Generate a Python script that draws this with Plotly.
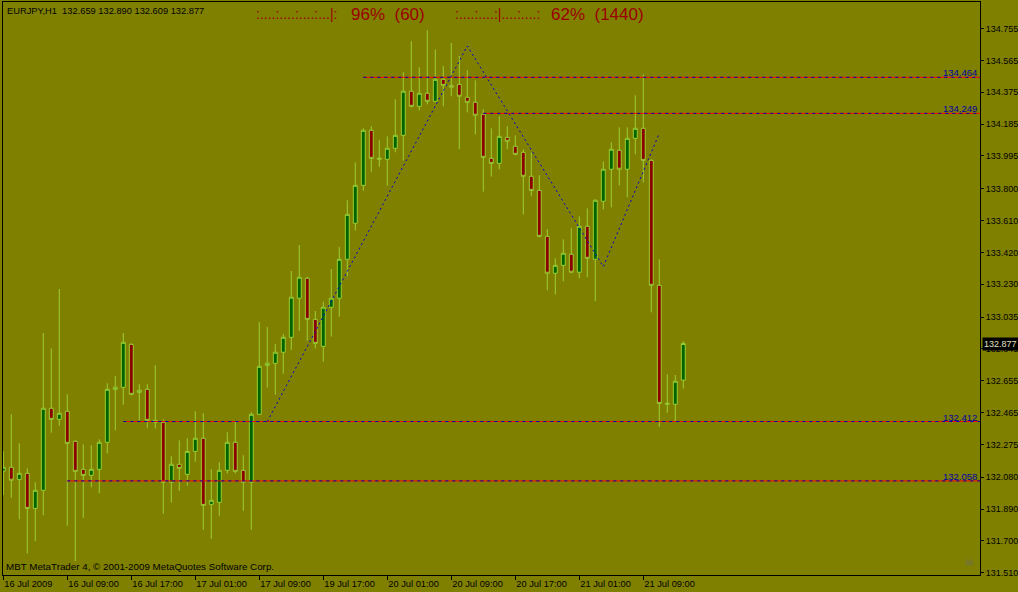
import plotly.graph_objects as go

# ---------------- data (EURJPY, H1) ----------------
bars = list(range(86))
opens = [132.117, 132.139, 132.067, 132.103, 131.894, 132.002, 132.491, 132.425, 132.473, 132.294,
         132.127, 132.091, 132.127, 132.288, 132.604, 132.616, 132.872, 132.586, 132.604, 132.407,
         132.407, 132.050, 132.157, 132.097, 132.234, 132.312, 131.918, 131.930, 132.121, 132.288,
         132.121, 132.050, 132.455, 132.747, 132.759, 132.825, 132.914, 133.147, 133.266, 133.021,
         132.860, 133.093, 133.147, 133.379, 133.594, 133.820, 134.148, 133.975, 133.975, 134.041,
         134.118, 134.381, 134.291, 134.369, 134.321, 134.452, 134.416, 134.422, 134.345, 134.315,
         134.244, 133.981, 133.951, 134.106, 134.053, 134.017, 133.874, 133.790, 133.516, 133.296,
         133.343, 133.409, 133.302, 133.576, 133.379, 133.725, 133.916, 134.029, 133.916, 134.100,
         134.160, 133.969, 133.224, 132.515, 132.515, 132.659]
highs = [132.236, 132.455, 132.282, 132.133, 132.050, 132.940, 132.848, 133.202, 132.574, 132.300,
         132.276, 132.270, 132.306, 132.640, 132.682, 132.940, 132.878, 132.634, 132.634, 132.747,
         132.425, 132.205, 132.300, 132.312, 132.473, 132.461, 132.127, 132.169, 132.348, 132.413,
         132.211, 132.467, 133.005, 132.975, 132.874, 132.934, 133.309, 133.464, 133.274, 133.071,
         133.126, 133.321, 133.452, 133.731, 133.957, 134.160, 134.172, 134.089, 134.112, 134.333,
         134.494, 134.679, 134.524, 134.744, 134.631, 134.532, 134.669, 134.591, 134.506, 134.446,
         134.273, 134.160, 134.232, 134.172, 134.118, 134.035, 134.017, 133.880, 133.558, 133.385,
         133.498, 133.564, 133.635, 133.683, 133.736, 133.963, 134.077, 134.166, 134.166, 134.357,
         134.482, 133.975, 133.379, 132.693, 132.689, 132.890]
lows = [131.974, 131.958, 131.829, 131.626, 131.698, 131.853, 132.345, 132.387, 131.791, 131.580,
        131.838, 132.020, 131.984, 132.222, 132.360, 132.512, 132.568, 132.419, 132.375, 132.371,
        131.862, 131.928, 131.999, 132.029, 132.172, 131.767, 131.713, 131.850, 132.103, 132.103,
        131.880, 131.767, 132.451, 132.614, 132.572, 132.697, 132.838, 132.953, 132.894, 132.848,
        132.769, 132.918, 133.037, 133.278, 133.550, 133.788, 133.901, 133.931, 133.818, 134.017,
        133.969, 134.285, 134.267, 134.303, 134.315, 134.291, 134.351, 134.035, 134.255, 134.124,
        133.782, 133.872, 133.916, 134.035, 133.999, 133.647, 133.755, 133.510, 133.194, 133.170,
        133.248, 133.296, 133.266, 133.272, 133.129, 133.677, 133.689, 133.820, 133.749, 134.005,
        133.838, 133.063, 132.381, 132.464, 132.411, 132.609]
closes = [132.139, 132.062, 132.103, 131.894, 132.002, 132.491, 132.425, 132.461, 132.282, 132.115,
          132.091, 132.127, 132.288, 132.604, 132.616, 132.884, 132.574, 132.598, 132.419, 132.419,
          132.050, 132.157, 132.133, 132.234, 132.312, 131.912, 131.942, 132.121, 132.288, 132.115,
          132.050, 132.455, 132.741, 132.759, 132.825, 132.914, 133.153, 133.272, 133.021, 132.878,
          133.093, 133.147, 133.379, 133.647, 133.820, 134.148, 133.981, 133.981, 134.041, 134.118,
          134.381, 134.291, 134.369, 134.321, 134.452, 134.416, 134.405, 134.351, 134.315, 134.238,
          133.987, 133.951, 134.112, 134.083, 134.005, 133.874, 133.790, 133.516, 133.296, 133.343,
          133.415, 133.302, 133.576, 133.385, 133.731, 133.916, 134.035, 133.916, 134.100, 134.160,
          133.969, 133.224, 132.520, 132.520, 132.652, 132.877]

# zigzag indicator points (bar index, price)
zz_bars = [33, 58, 75, 82]
zz_prices = [132.412, 134.651, 133.335, 134.130]

# horizontal levels (price, first bar)
level_prices = [134.464, 134.249, 132.412, 132.058]
level_start = [45, 60, 15, 8]

# axis labels
time_tick_bars = [0, 8, 16, 24, 32, 40, 48, 56, 64, 72, 80]
time_tick_text = ["16 Jul 2009", "16 Jul 09:00", "16 Jul 17:00", "17 Jul 01:00", "17 Jul 09:00",
                  "19 Jul 17:00", "20 Jul 01:00", "20 Jul 09:00", "20 Jul 17:00", "21 Jul 01:00",
                  "21 Jul 09:00"]
price_ticks = [134.755, 134.565, 134.375, 134.185, 133.995, 133.800, 133.610, 133.420, 133.230,
               133.035, 132.845, 132.655, 132.465, 132.275, 132.080, 131.890, 131.700, 131.510]

symbol = "EURJPY,H1"
last_bar = (132.659, 132.890, 132.609, 132.877)

# ---------------- layout geometry ----------------
W, H = 1018, 592
ML, MR, MT, MB = 3, 38, 2, 17
PW, PH = W - ML - MR, H - MT - MB
X_RANGE = [-0.0375, -0.0375 + PW / 8.0]
Y_RANGE = [131.497, 134.913]

def px(xp):
    return (xp - ML) / PW

def py(yp):
    return (H - MB - yp) / PH

BG = "#808000"
OUTLINE = "#9acd32"
FONT = "Liberation Sans"

fig = go.Figure()

fig.add_trace(go.Candlestick(
    x=bars, open=opens, high=highs, low=lows, close=closes,
    increasing=dict(line=dict(color=OUTLINE, width=1), fillcolor="#006400"),
    decreasing=dict(line=dict(color=OUTLINE, width=1), fillcolor="#8b0000"),
    showlegend=False, hoverinfo="skip"))

# horizontal levels: red line with blue dashes on top
for p, s in zip(level_prices, level_start):
    fig.add_trace(go.Scatter(x=[s, X_RANGE[1]], y=[p, p], mode="lines",
                             line=dict(color="#ff0000", width=1), hoverinfo="skip", showlegend=False))
    fig.add_trace(go.Scatter(x=[s, X_RANGE[1]], y=[p, p], mode="lines",
                             line=dict(color="#0000b0", width=1, dash="3px,4px"),
                             hoverinfo="skip", showlegend=False))

fig.add_trace(go.Scatter(x=zz_bars, y=zz_prices, mode="lines",
                         line=dict(color="#0000c8", width=1, dash="2px,3px"),
                         hoverinfo="skip", showlegend=False))

annotations = []
# level labels
for p in level_prices:
    annotations.append(dict(x=1, xref="paper", y=p, yref="y", text=f"{p:.3f}",
                            xanchor="right", yanchor="bottom", showarrow=False,
                            xshift=-1, yshift=-3,
                            font=dict(family=FONT, size=9.5, color="#0000a0")))

# header
annotations.append(dict(x=px(5), y=py(11), xref="paper", yref="paper", xanchor="left", yanchor="middle",
                        showarrow=False,
                        text=f"{symbol}  " + " ".join(f"{v:.3f}" for v in last_bar),
                        font=dict(family=FONT, size=9.3, color="black")))
RED = "#9a0000"
annotations.append(dict(x=px(254), y=py(14), xref="paper", yref="paper", xanchor="left", yanchor="middle",
                        showarrow=False, text=":....:....:....:...|:",
                        font=dict(family=FONT, size=14, color=RED)))
annotations.append(dict(x=px(349), y=py(14), xref="paper", yref="paper", xanchor="left", yanchor="middle",
                        showarrow=False, text="96%  (60)",
                        font=dict(family=FONT, size=17, color=RED)))
annotations.append(dict(x=px(453), y=py(14), xref="paper", yref="paper", xanchor="left", yanchor="middle",
                        showarrow=False, text=":....:....:|....:....:",
                        font=dict(family=FONT, size=14, color=RED)))
annotations.append(dict(x=px(549), y=py(14), xref="paper", yref="paper", xanchor="left", yanchor="middle",
                        showarrow=False, text="62%  (1440)",
                        font=dict(family=FONT, size=17, color=RED)))
# copyright
annotations.append(dict(x=px(4), y=py(566), xref="paper", yref="paper", xanchor="left", yanchor="middle",
                        showarrow=False, text="MBT MetaTrader 4, © 2001-2009 MetaQuotes Software Corp.",
                        font=dict(family=FONT, size=9.8, color="black")))
# skull icon
annotations.append(dict(x=px(969), y=py(562), xref="paper", yref="paper", xanchor="center", yanchor="middle",
                        showarrow=False, text="☠",
                        font=dict(family="DejaVu Sans", size=12, color="#6e6e50")))
# current price box
annotations.append(dict(x=1, xref="paper", y=last_bar[3], yref="y", text=f"{last_bar[3]:.3f}",
                        xanchor="left", yanchor="middle", showarrow=False, xshift=2,
                        bgcolor="black", borderpad=1,
                        font=dict(family=FONT, size=9, color="#e0e0c0")))

fig.update_layout(
    width=W, height=H, autosize=False,
    margin=dict(l=ML, r=MR, t=MT, b=MB, pad=0, autoexpand=False),
    paper_bgcolor=BG, plot_bgcolor=BG,
    showlegend=False,
    annotations=annotations,
    xaxis=dict(range=X_RANGE, tickmode="array", tickvals=time_tick_bars, ticktext=time_tick_text,
               ticks="outside", ticklen=4, tickcolor="black", tickwidth=1, tickangle=0,
               automargin=False,
               showline=True, linecolor="black", linewidth=1, mirror=True,
               showgrid=False, zeroline=False, ticklabelposition="outside right",
               tickfont=dict(family=FONT, size=9.3, color="black"),
               rangeslider=dict(visible=False), fixedrange=True),
    yaxis=dict(range=Y_RANGE, side="right", tickmode="array", tickvals=price_ticks,
               ticktext=[f"{v:.3f}" for v in price_ticks], automargin=False,
               ticks="outside", ticklen=3, tickcolor="black",
               showline=True, linecolor="black", linewidth=1, mirror=True,
               showgrid=False, zeroline=False,
               tickfont=dict(family=FONT, size=9, color="black"), fixedrange=True),
)

fig.write_html("out.html", config={"displayModeBar": False},
               post_script="document.body.style.margin='0';document.body.style.padding='0';"
                           "document.body.style.overflow='hidden';")
